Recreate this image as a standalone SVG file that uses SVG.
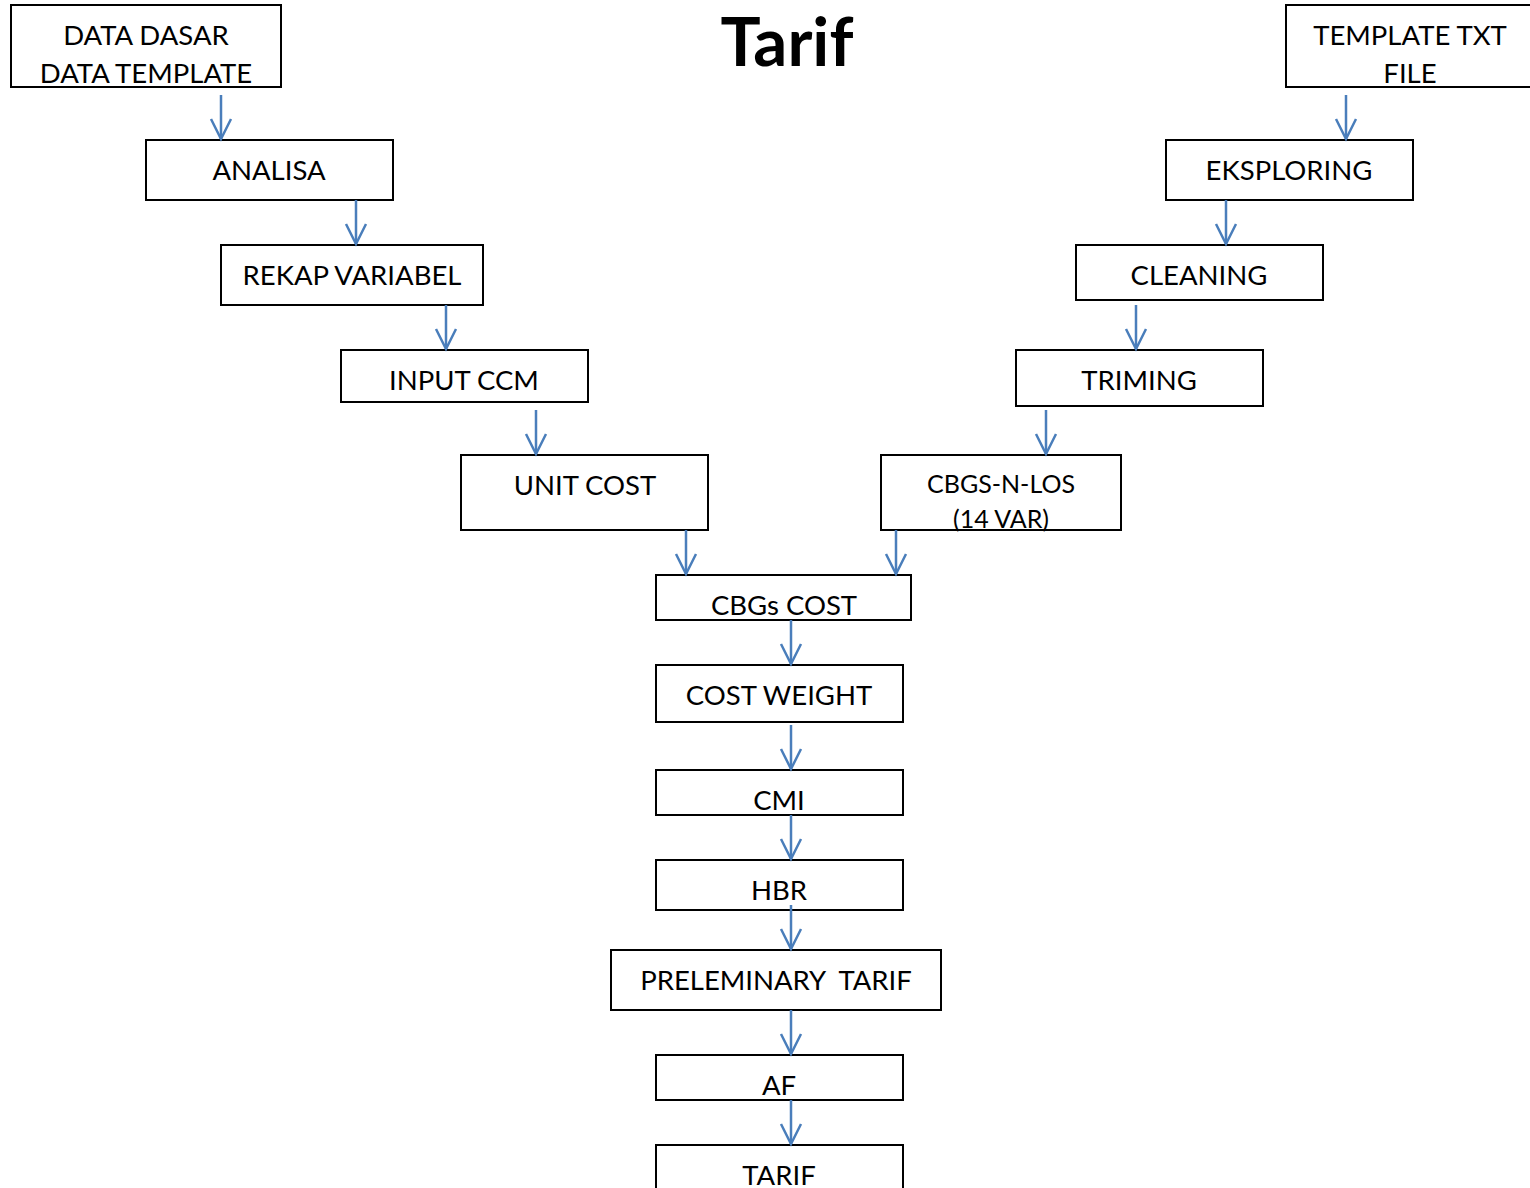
<svg xmlns="http://www.w3.org/2000/svg" width="1530" height="1188" viewBox="0 0 1530 1188">
  <style>
    .box { fill: #ffffff; stroke: #000000; stroke-width: 2; }
    .lbl { font-family: Lato, "Open Sans", "Liberation Sans", sans-serif; font-size: 27.5px; fill: #000000; text-anchor: middle; }
    .sm { font-size: 25px; }
    .title { font-family: Lato, "Open Sans", "Liberation Sans", sans-serif; font-size: 67px; font-weight: bold; fill: #000000; text-anchor: middle; }
    .edge { stroke: #4a7ebb; stroke-width: 2.5; fill: none; marker-end: url(#head); }
  </style>
  <defs>
    <marker id="head" markerUnits="userSpaceOnUse" markerWidth="26" markerHeight="26" viewBox="-23 -13 26 26" refX="0" refY="0" orient="auto">
      <polyline points="-20,-10 0,0 -20,10" fill="none" stroke="#4a7ebb" stroke-width="2.5"/>
    </marker>
  </defs>
  <rect width="1530" height="1188" fill="#ffffff"/>

  <text class="title" x="787" y="66">Tarif</text>

  <g id="data-dasar">
    <rect class="box" x="11" y="5" width="270" height="82"/>
    <text class="lbl" x="146" y="45">DATA DASAR</text>
    <text class="lbl" x="146" y="83">DATA TEMPLATE</text>
  </g>
  <g id="analisa">
    <rect class="box" x="146" y="140" width="247" height="60"/>
    <text class="lbl" x="269" y="180">ANALISA</text>
  </g>
  <g id="rekap-variabel">
    <rect class="box" x="221" y="245" width="262" height="60"/>
    <text class="lbl" x="352" y="285">REKAP VARIABEL</text>
  </g>
  <g id="input-ccm">
    <rect class="box" x="341" y="350" width="247" height="52"/>
    <text class="lbl" x="464" y="390">INPUT CCM</text>
  </g>
  <g id="unit-cost">
    <rect class="box" x="461" y="455" width="247" height="75"/>
    <text class="lbl" x="585" y="495">UNIT COST</text>
  </g>
  <g id="template-txt">
    <rect class="box" x="1286" y="5" width="250" height="82"/>
    <text class="lbl" x="1410" y="45">TEMPLATE TXT</text>
    <text class="lbl" x="1410" y="83">FILE</text>
  </g>
  <g id="eksploring">
    <rect class="box" x="1166" y="140" width="247" height="60"/>
    <text class="lbl" x="1289" y="180">EKSPLORING</text>
  </g>
  <g id="cleaning">
    <rect class="box" x="1076" y="245" width="247" height="55"/>
    <text class="lbl" x="1199" y="285">CLEANING</text>
  </g>
  <g id="triming">
    <rect class="box" x="1016" y="350" width="247" height="56"/>
    <text class="lbl" x="1139" y="390">TRIMING</text>
  </g>
  <g id="cbgs-n-los">
    <rect class="box" x="881" y="455" width="240" height="75"/>
    <text class="lbl sm" x="1001" y="493">CBGS-N-LOS</text>
    <text class="lbl sm" x="1001" y="528">(14 VAR)</text>
  </g>
  <g id="cbgs-cost">
    <rect class="box" x="656" y="575" width="255" height="45"/>
    <text class="lbl" x="784" y="615">CBGs COST</text>
  </g>
  <g id="cost-weight">
    <rect class="box" x="656" y="665" width="247" height="57"/>
    <text class="lbl" x="779" y="705">COST WEIGHT</text>
  </g>
  <g id="cmi">
    <rect class="box" x="656" y="770" width="247" height="45"/>
    <text class="lbl" x="779" y="810">CMI</text>
  </g>
  <g id="hbr">
    <rect class="box" x="656" y="860" width="247" height="50"/>
    <text class="lbl" x="779" y="900">HBR</text>
  </g>
  <g id="preleminary-tarif">
    <rect class="box" x="611" y="950" width="330" height="60"/>
    <text class="lbl" x="776" y="990" xml:space="preserve">PRELEMINARY  TARIF</text>
  </g>
  <g id="af">
    <rect class="box" x="656" y="1055" width="247" height="45"/>
    <text class="lbl" x="779" y="1095">AF</text>
  </g>
  <g id="tarif">
    <rect class="box" x="656" y="1145" width="247" height="60"/>
    <text class="lbl" x="779" y="1185">TARIF</text>
  </g>

  <g id="connectors">
    <line class="edge" x1="221" y1="95" x2="221" y2="139"/>
    <line class="edge" x1="356" y1="200" x2="356" y2="244"/>
    <line class="edge" x1="446" y1="305" x2="446" y2="349"/>
    <line class="edge" x1="536" y1="410" x2="536" y2="454"/>
    <line class="edge" x1="686" y1="530" x2="686" y2="574"/>
    <line class="edge" x1="896" y1="530" x2="896" y2="574"/>
    <line class="edge" x1="1346" y1="95" x2="1346" y2="139"/>
    <line class="edge" x1="1226" y1="200" x2="1226" y2="244"/>
    <line class="edge" x1="1136" y1="305" x2="1136" y2="349"/>
    <line class="edge" x1="1046" y1="410" x2="1046" y2="454"/>
    <line class="edge" x1="791" y1="620" x2="791" y2="664"/>
    <line class="edge" x1="791" y1="725" x2="791" y2="769"/>
    <line class="edge" x1="791" y1="815" x2="791" y2="859"/>
    <line class="edge" x1="791" y1="905" x2="791" y2="949"/>
    <line class="edge" x1="791" y1="1010" x2="791" y2="1054"/>
    <line class="edge" x1="791" y1="1100" x2="791" y2="1144"/>
  </g>
</svg>
